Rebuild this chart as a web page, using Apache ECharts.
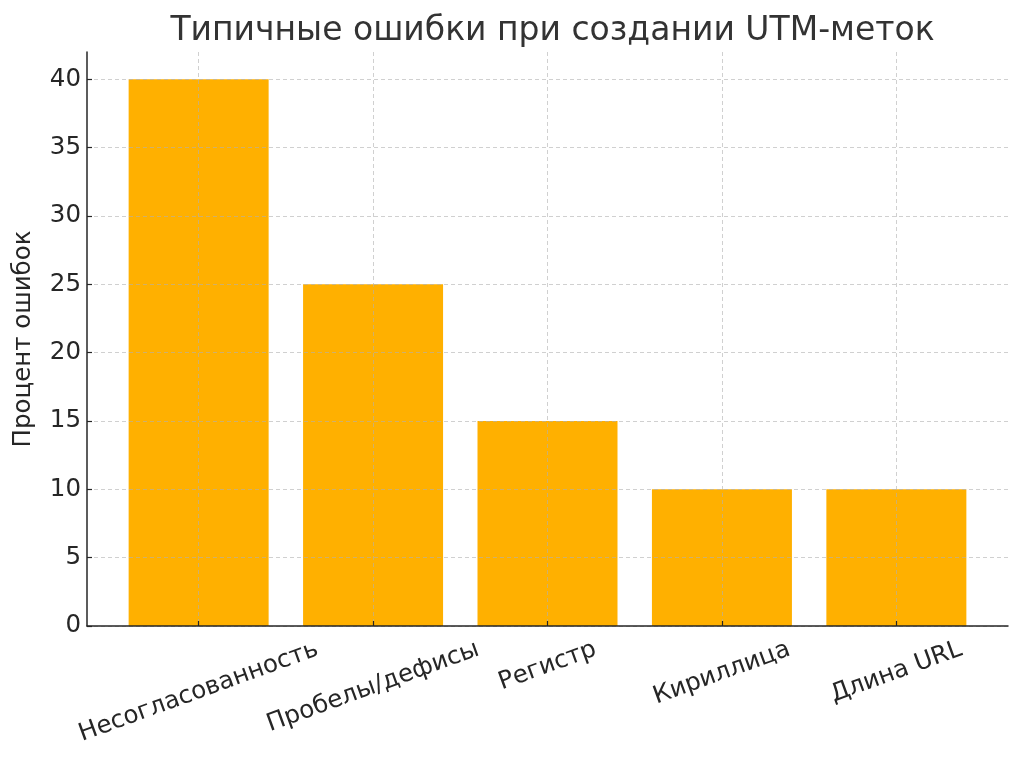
<!DOCTYPE html>
<html>
<head>
<meta charset="utf-8">
<title>Типичные ошибки при создании UTM-меток</title>
<script src="https://cdn.jsdelivr.net/npm/echarts@6/dist/echarts.min.js"></script>
<style>
    html, body { margin: 0; padding: 0; background: #fff; }
    #main { width: 1024px; height: 758px; }
</style>
</head>
<body>
<div id="main"></div>
<script>
    var categories = ['Несогласованность', 'Пробелы/дефисы', 'Регистр', 'Кириллица', 'Длина URL'];
    var errorShare = [40, 25, 15, 10, 10];
    var yTicks = [0, 5, 10, 15, 20, 25, 30, 35, 40];

    var fontFamily = 'DejaVu Sans';
    var textColor = '#262626';
    var labelSize = 24.5;
    var labelAngle = 20;
    var lineH = Math.round(labelSize * 1.17);

    // matplotlib-like x range: bars at 0..n-1 with 5% margins
    var xMin = -0.64, xMax = 4.64;
    var gridLeft = 87, gridRight = 16;
    var plotW = 1024 - gridLeft - gridRight;
    var barW = Math.round(plotW / (xMax - xMin) * 0.8);

    // rotated labels are centred under the tick, pushed down by half their box height
    var ctx = document.createElement('canvas').getContext('2d');
    ctx.font = labelSize + 'px ' + fontFamily;
    function labelMargin(text) {
        var w = ctx.measureText(text).width;
        var rad = labelAngle * Math.PI / 180;
        return 9 + (w * Math.sin(rad) + lineH * Math.cos(rad)) / 2;
    }

    var gridLine = {
        show: true,
        lineStyle: { color: 'rgba(176,176,176,0.6)', type: [4, 3], width: 1 }
    };

    var xIdx = categories.map(function (c, i) { return i; });

    var xAxes = [{
        type: 'value',
        min: xMin,
        max: xMax,
        position: 'bottom',
        z: 5,
        axisLine: { show: true, onZero: false, lineStyle: { color: textColor, width: 1.5 } },
        axisTick: { show: true, inside: true, length: 5, customValues: xIdx,
            lineStyle: { color: textColor, width: 1.2 } },
        axisLabel: { show: false },
        splitLine: gridLine
    }];
    categories.forEach(function (name, i) {
        xAxes.push({
            type: 'value',
            min: xMin,
            max: xMax,
            position: 'bottom',
            gridIndex: 0,
            axisLine: { show: false, onZero: false },
            axisTick: { show: false },
            splitLine: { show: false },
            axisLabel: {
                show: true,
                customValues: [i],
                formatter: function () { return name; },
                rotate: labelAngle,
                align: 'center',
                verticalAlign: 'middle',
                margin: labelMargin(name),
                fontSize: labelSize,
                fontFamily: fontFamily,
                color: textColor,
                lineHeight: lineH
            }
        });
    });

    var myChart = echarts.init(document.getElementById('main'));
    var option = {
        backgroundColor: '#FFFFFF',
        animation: false,
        title: {
            text: 'Типичные ошибки при создании UTM-меток',
            left: gridLeft + plotW / 2,
            textAlign: 'center',
            top: 10,
            textStyle: { fontFamily: fontFamily, fontSize: 33, fontWeight: 'normal', color: '#333333' }
        },
        grid: {
            left: gridLeft,
            right: gridRight,
            top: 52,
            bottom: 132,
            containLabel: false,
            outerBoundsMode: 'none'
        },
        xAxis: xAxes,
        yAxis: {
            type: 'value',
            min: 0,
            max: 42,
            z: 5,
            name: 'Процент ошибок',
            nameLocation: 'middle',
            nameGap: 51,
            nameTextStyle: { fontFamily: fontFamily, fontSize: labelSize, color: textColor },
            axisLine: { show: true, onZero: false, lineStyle: { color: textColor, width: 1.5 } },
            axisTick: { show: true, inside: true, length: 5, customValues: yTicks,
                lineStyle: { color: textColor, width: 1.2 } },
            axisLabel: { customValues: yTicks, margin: 6, fontSize: labelSize,
                fontFamily: fontFamily, color: textColor },
            splitLine: gridLine
        },
        series: [{
            name: 'Процент ошибок',
            type: 'bar',
            xAxisIndex: 0,
            barWidth: barW,
            itemStyle: { color: '#FFB000' },
            data: errorShare.map(function (v, i) { return [i, v]; })
        }]
    };
    myChart.setOption(option);
</script>
</body>
</html>
